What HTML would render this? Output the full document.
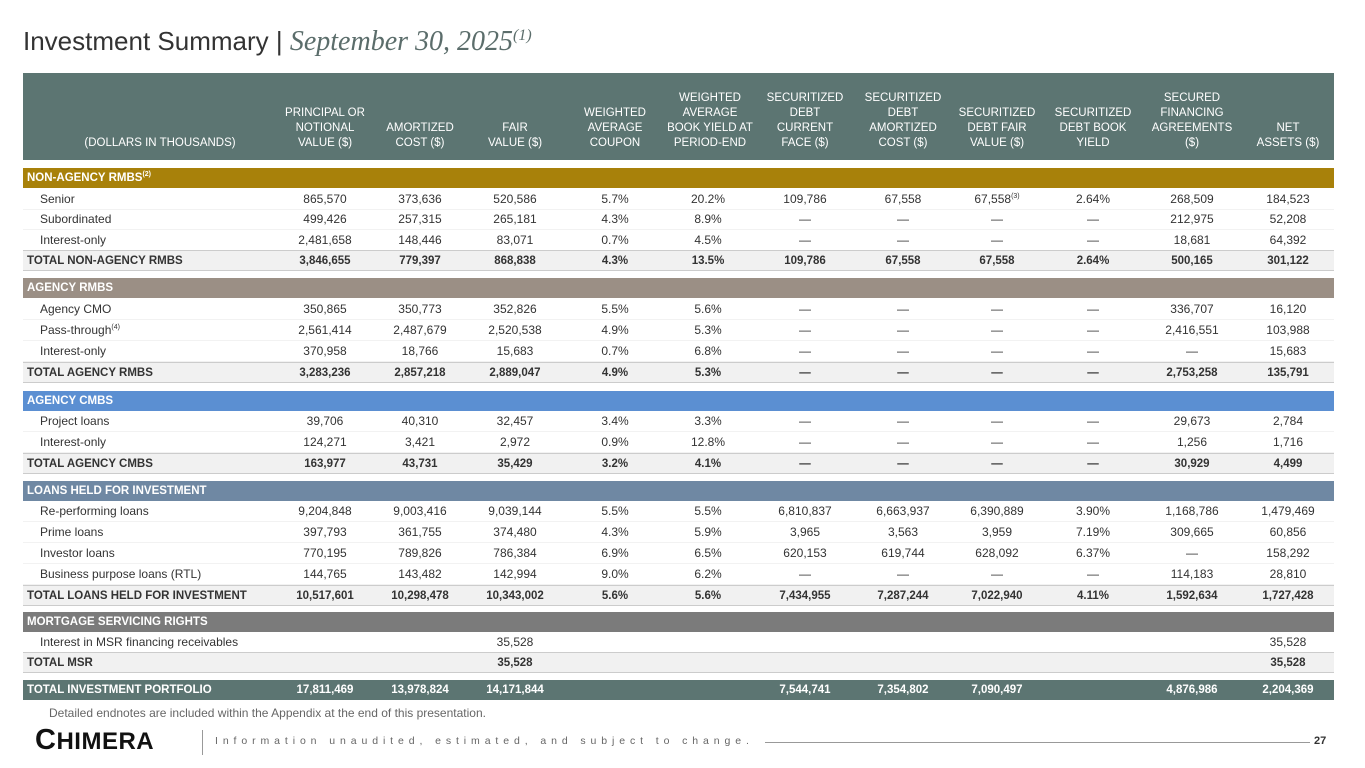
<!DOCTYPE html>
<html><head><meta charset="utf-8"><style>
*{margin:0;padding:0;box-sizing:border-box}
body{width:1365px;height:768px;background:#fff;font-family:"Liberation Sans",sans-serif;color:#333;position:relative;overflow:hidden}
.t{position:absolute;left:23px;top:26px;font-size:26px;color:#333}
.t i{font-family:"Liberation Serif",serif;color:#5b6d6b;font-size:28px}
.t sup{font-size:16px;line-height:0;vertical-align:10px}
.hd{position:absolute;left:23px;top:73px;width:1311px;height:87px;background:#5c7572}
.hd div{position:absolute;bottom:9px;width:104px;text-align:center;color:#fff;font-size:11.5px;line-height:15px}
.r{position:absolute;left:23px;width:1311px;height:21px;font-size:12px;line-height:21px}
.r span{position:absolute;top:0;width:100px;text-align:center}
.r .l{left:17px;width:auto;text-align:left}
.tot{background:#f1f1f1;border-top:1px solid #ccc;border-bottom:1px solid #ccc;font-weight:bold;font-size:11.5px}
.tot .l{left:4px}
.sec{color:#fff;font-weight:bold;font-size:11.5px;height:20px;line-height:20px}
.sec .l{left:4px}
.dr{border-bottom:1px solid #f2f2f2}
.a{left:252px}.b{left:347px}.c{left:442px}.d{left:542px}.e{left:635px}.f{left:732px}.g{left:830px}.h{left:924px}.k{left:1020px}.m{left:1119px}.n{left:1215px}
.r sup{font-size:7px;line-height:0;vertical-align:5px}
</style></head><body>
<div class="t">Investment Summary | <i>September 30, 2025<sup>(1)</sup></i></div>
<div class="hd">
<div style="left:57px;width:160px">(DOLLARS IN THOUSANDS)</div>
<div style="left:250px">PRINCIPAL OR<br>NOTIONAL<br>VALUE ($)</div>
<div style="left:345px">AMORTIZED<br>COST ($)</div>
<div style="left:440px">FAIR<br>VALUE ($)</div>
<div style="left:540px">WEIGHTED<br>AVERAGE<br>COUPON</div>
<div style="left:635px">WEIGHTED<br>AVERAGE<br>BOOK YIELD AT<br>PERIOD-END</div>
<div style="left:730px">SECURITIZED<br>DEBT<br>CURRENT<br>FACE ($)</div>
<div style="left:828px">SECURITIZED<br>DEBT<br>AMORTIZED<br>COST ($)</div>
<div style="left:922px">SECURITIZED<br>DEBT FAIR<br>VALUE ($)</div>
<div style="left:1018px">SECURITIZED<br>DEBT BOOK<br>YIELD</div>
<div style="left:1117px">SECURED<br>FINANCING<br>AGREEMENTS<br>($)</div>
<div style="left:1213px">NET<br>ASSETS ($)</div>
</div>

<div class="r sec" style="top:168px;background:#a8810a"><span class="l">NON-AGENCY RMBS<sup>(2)</sup></span></div>
<div class="r dr" style="top:189px"><span class="l">Senior</span><span class="a">865,570</span><span class="b">373,636</span><span class="c">520,586</span><span class="d">5.7%</span><span class="e">20.2%</span><span class="f">109,786</span><span class="g">67,558</span><span class="h">67,558<sup>(3)</sup></span><span class="k">2.64%</span><span class="m">268,509</span><span class="n">184,523</span></div>
<div class="r dr" style="top:209px"><span class="l">Subordinated</span><span class="a">499,426</span><span class="b">257,315</span><span class="c">265,181</span><span class="d">4.3%</span><span class="e">8.9%</span><span class="f">—</span><span class="g">—</span><span class="h">—</span><span class="k">—</span><span class="m">212,975</span><span class="n">52,208</span></div>
<div class="r dr" style="top:230px"><span class="l">Interest-only</span><span class="a">2,481,658</span><span class="b">148,446</span><span class="c">83,071</span><span class="d">0.7%</span><span class="e">4.5%</span><span class="f">—</span><span class="g">—</span><span class="h">—</span><span class="k">—</span><span class="m">18,681</span><span class="n">64,392</span></div>
<div class="r tot" style="top:250px"><span class="l">TOTAL NON-AGENCY RMBS</span><span class="a">3,846,655</span><span class="b">779,397</span><span class="c">868,838</span><span class="d">4.3%</span><span class="e">13.5%</span><span class="f">109,786</span><span class="g">67,558</span><span class="h">67,558</span><span class="k">2.64%</span><span class="m">500,165</span><span class="n">301,122</span></div>

<div class="r sec" style="top:278px;background:#9b8f85"><span class="l">AGENCY RMBS</span></div>
<div class="r dr" style="top:299px"><span class="l">Agency CMO</span><span class="a">350,865</span><span class="b">350,773</span><span class="c">352,826</span><span class="d">5.5%</span><span class="e">5.6%</span><span class="f">—</span><span class="g">—</span><span class="h">—</span><span class="k">—</span><span class="m">336,707</span><span class="n">16,120</span></div>
<div class="r dr" style="top:320px"><span class="l">Pass-through<sup>(4)</sup></span><span class="a">2,561,414</span><span class="b">2,487,679</span><span class="c">2,520,538</span><span class="d">4.9%</span><span class="e">5.3%</span><span class="f">—</span><span class="g">—</span><span class="h">—</span><span class="k">—</span><span class="m">2,416,551</span><span class="n">103,988</span></div>
<div class="r dr" style="top:341px"><span class="l">Interest-only</span><span class="a">370,958</span><span class="b">18,766</span><span class="c">15,683</span><span class="d">0.7%</span><span class="e">6.8%</span><span class="f">—</span><span class="g">—</span><span class="h">—</span><span class="k">—</span><span class="m">—</span><span class="n">15,683</span></div>
<div class="r tot" style="top:362px"><span class="l">TOTAL AGENCY RMBS</span><span class="a">3,283,236</span><span class="b">2,857,218</span><span class="c">2,889,047</span><span class="d">4.9%</span><span class="e">5.3%</span><span class="f">—</span><span class="g">—</span><span class="h">—</span><span class="k">—</span><span class="m">2,753,258</span><span class="n">135,791</span></div>

<div class="r sec" style="top:391px;background:#5b8fd2"><span class="l">AGENCY CMBS</span></div>
<div class="r dr" style="top:411px"><span class="l">Project loans</span><span class="a">39,706</span><span class="b">40,310</span><span class="c">32,457</span><span class="d">3.4%</span><span class="e">3.3%</span><span class="f">—</span><span class="g">—</span><span class="h">—</span><span class="k">—</span><span class="m">29,673</span><span class="n">2,784</span></div>
<div class="r dr" style="top:432px"><span class="l">Interest-only</span><span class="a">124,271</span><span class="b">3,421</span><span class="c">2,972</span><span class="d">0.9%</span><span class="e">12.8%</span><span class="f">—</span><span class="g">—</span><span class="h">—</span><span class="k">—</span><span class="m">1,256</span><span class="n">1,716</span></div>
<div class="r tot" style="top:453px"><span class="l">TOTAL AGENCY CMBS</span><span class="a">163,977</span><span class="b">43,731</span><span class="c">35,429</span><span class="d">3.2%</span><span class="e">4.1%</span><span class="f">—</span><span class="g">—</span><span class="h">—</span><span class="k">—</span><span class="m">30,929</span><span class="n">4,499</span></div>

<div class="r sec" style="top:481px;background:#6f88a3"><span class="l">LOANS HELD FOR INVESTMENT</span></div>
<div class="r dr" style="top:501px"><span class="l">Re-performing loans</span><span class="a">9,204,848</span><span class="b">9,003,416</span><span class="c">9,039,144</span><span class="d">5.5%</span><span class="e">5.5%</span><span class="f">6,810,837</span><span class="g">6,663,937</span><span class="h">6,390,889</span><span class="k">3.90%</span><span class="m">1,168,786</span><span class="n">1,479,469</span></div>
<div class="r dr" style="top:522px"><span class="l">Prime loans</span><span class="a">397,793</span><span class="b">361,755</span><span class="c">374,480</span><span class="d">4.3%</span><span class="e">5.9%</span><span class="f">3,965</span><span class="g">3,563</span><span class="h">3,959</span><span class="k">7.19%</span><span class="m">309,665</span><span class="n">60,856</span></div>
<div class="r dr" style="top:543px"><span class="l">Investor loans</span><span class="a">770,195</span><span class="b">789,826</span><span class="c">786,384</span><span class="d">6.9%</span><span class="e">6.5%</span><span class="f">620,153</span><span class="g">619,744</span><span class="h">628,092</span><span class="k">6.37%</span><span class="m">—</span><span class="n">158,292</span></div>
<div class="r dr" style="top:564px"><span class="l">Business purpose loans (RTL)</span><span class="a">144,765</span><span class="b">143,482</span><span class="c">142,994</span><span class="d">9.0%</span><span class="e">6.2%</span><span class="f">—</span><span class="g">—</span><span class="h">—</span><span class="k">—</span><span class="m">114,183</span><span class="n">28,810</span></div>
<div class="r tot" style="top:585px"><span class="l">TOTAL LOANS HELD FOR INVESTMENT</span><span class="a">10,517,601</span><span class="b">10,298,478</span><span class="c">10,343,002</span><span class="d">5.6%</span><span class="e">5.6%</span><span class="f">7,434,955</span><span class="g">7,287,244</span><span class="h">7,022,940</span><span class="k">4.11%</span><span class="m">1,592,634</span><span class="n">1,727,428</span></div>

<div class="r sec" style="top:612px;background:#7b7b7b"><span class="l">MORTGAGE SERVICING RIGHTS</span></div>
<div class="r dr" style="top:632px"><span class="l">Interest in MSR financing receivables</span><span class="c">35,528</span><span class="n">35,528</span></div>
<div class="r tot" style="top:652px"><span class="l">TOTAL MSR</span><span class="c">35,528</span><span class="n">35,528</span></div>

<div class="r sec" style="top:680px;background:#5c7572"><span class="l">TOTAL INVESTMENT PORTFOLIO</span><span class="a">17,811,469</span><span class="b">13,978,824</span><span class="c">14,171,844</span><span class="f">7,544,741</span><span class="g">7,354,802</span><span class="h">7,090,497</span><span class="m">4,876,986</span><span class="n">2,204,369</span></div>

<div style="position:absolute;left:49px;top:706px;font-size:12px;color:#666">Detailed endnotes are included within the Appendix at the end of this presentation.</div>
<div style="position:absolute;left:35px;top:725px;font-size:29px;font-weight:bold;color:#111;letter-spacing:0.5px;line-height:30px">C<span style="font-size:24px">HIMERA</span></div>
<div style="position:absolute;left:202px;top:730px;width:1px;height:25px;background:#999"></div>
<div style="position:absolute;left:215px;top:735px;font-size:10.5px;color:#666;letter-spacing:4.9px">Information unaudited, estimated, and subject to change.</div>
<div style="position:absolute;left:765px;top:742px;width:545px;height:1px;background:#999"></div>
<div style="position:absolute;left:1314px;top:735px;font-size:11px;font-weight:bold;color:#333">27</div>
</body></html>
